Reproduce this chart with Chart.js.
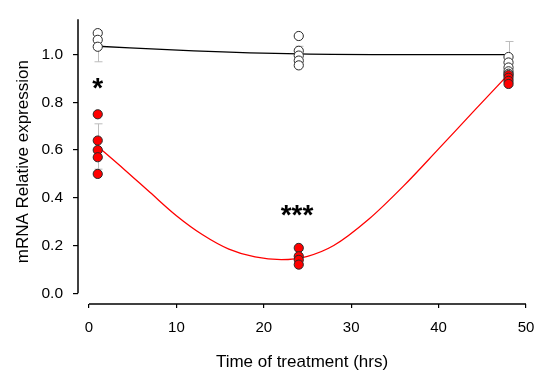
<!DOCTYPE html>
<html><head><meta charset="utf-8">
<script src="https://cdn.jsdelivr.net/npm/chart.js@4"></script>
<style>html,body{margin:0;padding:0;background:#fff}</style>
</head><body>
<canvas id="c" width="550" height="383"></canvas>
<script>
// ---- data ----
const controlX = [1, 1, 1, 24, 24, 24, 24, 24, 48, 48, 48, 48, 48];
const controlY = [1.09, 1.062, 1.033, 1.078, 1.016, 0.996, 0.975, 0.955, 0.99, 0.967, 0.946, 0.93, 0.92];
const treatedX = [1, 1, 1, 1, 1, 24, 24, 24, 24, 48, 48, 48, 48];
const treatedY = [0.75, 0.64, 0.60, 0.57, 0.50, 0.19, 0.155, 0.14, 0.12, 0.914, 0.903, 0.89, 0.877];
const controlFitX = [1, 12, 24, 36, 48];
const controlFitY = [1.035, 1.016, 1.003, 1.0, 1.0];
const treatedFitX = [1, 4, 7, 10, 13, 16, 19, 22, 25, 28, 32, 36, 40, 44, 48];
const treatedFitY = [0.615, 0.52, 0.422, 0.325, 0.245, 0.185, 0.152, 0.141, 0.155, 0.2, 0.31, 0.45, 0.605, 0.762, 0.918];
const errX    = [1, 24, 48, 1, 24, 48];
const errLow  = [0.97, 0.96, 0.87, 0.52, 0.12, 0.88];
const errHigh = [1.10, 1.035, 1.055, 0.71, 0.18, 0.92];
const sigLabels = ['*', '***'];
const sigX = [1, 23.8];
const sigY = [0.877, 0.345];
const xTicks = [0, 10, 20, 30, 40, 50];
const yTicks = [0, 0.2, 0.4, 0.6, 0.8, 1.0];
const xTitle = 'Time of treatment (hrs)';
const yTitle = 'mRNA Relative expression';

const FONT = "'Liberation Sans', Arial, sans-serif";
const pts = (xs, ys) => xs.map((x, i) => ({x: x, y: ys[i]}));

const extras = {
  id: 'extras',
  beforeDatasetsDraw(chart) {
    const {ctx, scales: {x, y}} = chart;
    ctx.save();
    ctx.strokeStyle = '#bdbdbd';
    ctx.lineWidth = 1;
    errX.forEach((xv, i) => {
      const px = Math.round(x.getPixelForValue(xv)) + 0.5;
      const lo = y.getPixelForValue(errLow[i]);
      const hi = y.getPixelForValue(errHigh[i]);
      ctx.beginPath();
      ctx.moveTo(px, lo); ctx.lineTo(px, hi);
      ctx.moveTo(px - 4, lo); ctx.lineTo(px + 4, lo);
      ctx.moveTo(px - 4, hi); ctx.lineTo(px + 4, hi);
      ctx.stroke();
    });
    ctx.restore();
  },
  afterDraw(chart) {
    const {ctx, scales: {x, y}} = chart;
    ctx.save();
    ctx.strokeStyle = '#000';
    ctx.lineWidth = 1.5;
    const ax = chart.chartArea.left;
    ctx.beginPath();
    ctx.moveTo(ax, y.getPixelForValue(0));
    ctx.lineTo(ax, y.top);
    ctx.stroke();
    const ay = chart.chartArea.bottom;
    ctx.beginPath();
    ctx.moveTo(x.getPixelForValue(0), ay);
    ctx.lineTo(x.getPixelForValue(50), ay);
    ctx.stroke();
    ctx.fillStyle = '#000';
    ctx.font = 'bold 28px ' + FONT;
    ctx.textAlign = 'center';
    ctx.textBaseline = 'alphabetic';
    sigLabels.forEach((t, i) => {
      const m = ctx.measureText(t);
      const cx = x.getPixelForValue(sigX[i]);
      const cy = y.getPixelForValue(sigY[i]);
      const base = cy + (m.actualBoundingBoxAscent - m.actualBoundingBoxDescent) / 2;
      ctx.fillText(t, cx, base);
    });
    ctx.restore();
  }
};

new Chart(document.getElementById('c'), {
  type: 'scatter',
  data: {
    datasets: [
      {type: 'scatter', data: pts(treatedX, treatedY), backgroundColor: '#ff0000', borderColor: '#2a2a2a', borderWidth: 1, pointRadius: 4.6, order: 0},
      {type: 'scatter', data: pts(controlX, controlY), backgroundColor: '#ffffff', borderColor: '#2a2a2a', borderWidth: 1, pointRadius: 4.6, order: 1},
      {type: 'line', data: pts(treatedFitX, treatedFitY), borderColor: '#ff0000', borderWidth: 1.3, pointRadius: 0, cubicInterpolationMode: 'monotone', fill: false, showLine: true, order: 2},
      {type: 'line', data: pts(controlFitX, controlFitY), borderColor: '#000000', borderWidth: 1.3, pointRadius: 0, cubicInterpolationMode: 'monotone', fill: false, showLine: true, order: 3}
    ]
  },
  options: {
    responsive: false,
    devicePixelRatio: 1,
    animation: false,
    events: [],
    layout: {padding: {left: 0, right: 24, top: 13, bottom: 0}},
    plugins: {legend: {display: false}, tooltip: {enabled: false}},
    scales: {
      x: {
        type: 'linear', min: -1.26, max: 50,
        afterBuildTicks: s => { s.ticks = xTicks.map(v => ({value: v})); },
        afterFit: s => { s.height = 79; },
        border: {display: false},
        grid: {drawOnChartArea: false, drawTicks: true, tickLength: 4, color: '#000', lineWidth: 1.2},
        ticks: {color: '#000', font: {family: FONT, size: 15}, padding: 11, maxRotation: 0, callback: v => String(v)},
        title: {display: true, text: xTitle, color: '#000', font: {family: FONT, size: 17}, padding: {top: 0, bottom: 10}}
      },
      y: {
        type: 'linear', min: -0.045, max: 1.148,
        afterBuildTicks: s => { s.ticks = yTicks.map(v => ({value: v})); },
        afterFit: s => { s.width = 78; },
        border: {display: false},
        grid: {drawOnChartArea: false, drawTicks: true, tickLength: 5, color: '#000', lineWidth: 1.2},
        ticks: {color: '#000', font: {family: FONT, size: 15.5}, padding: 10, callback: v => v.toFixed(1)},
        title: {display: true, text: yTitle, color: '#000', font: {family: FONT, size: 17}, padding: {top: 13, bottom: 0}}
      }
    }
  },
  plugins: [extras]
});
</script>
</body></html>
